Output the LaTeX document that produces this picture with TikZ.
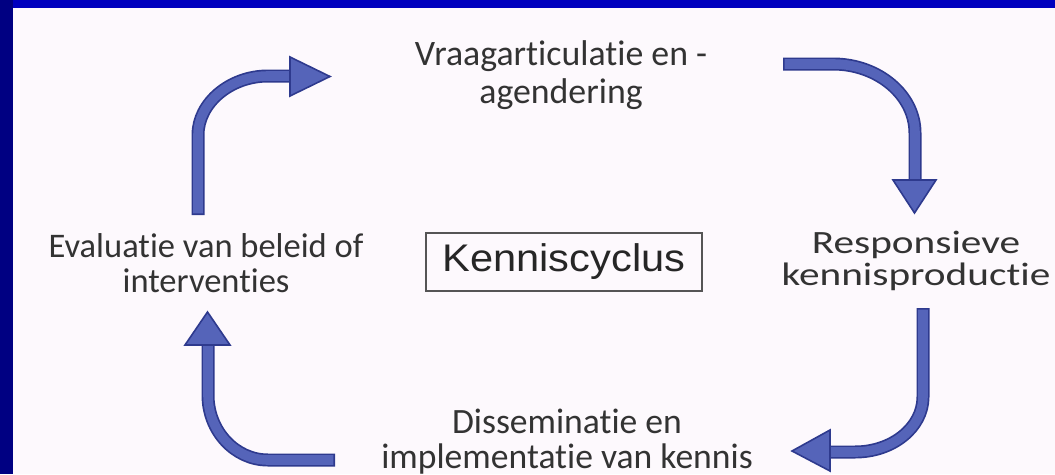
\documentclass[tikz,border=0pt]{standalone}
\usepackage{fontspec}
\setmainfont{Carlito}[Ligatures=NoCommon]
\newfontfamily\arialf{Liberation Sans}[FakeStretch=1.08]
\newfontfamily\widecal{Carlito}[Ligatures=NoCommon, FakeStretch=1.27]
\definecolor{bgblue}{HTML}{0000BE}
\definecolor{navyside}{HTML}{000082}
\definecolor{paper}{HTML}{FDF9FD}
\definecolor{arrowfill}{HTML}{5564B9}
\definecolor{arrowedge}{HTML}{2E3A8E}
\definecolor{txt}{HTML}{333333}
\definecolor{boxgray}{HTML}{555555}
\begin{document}
\begin{tikzpicture}[x=1pt,y=-1pt,
  lbl/.style={text=txt, align=center, inner sep=0pt, anchor=base},
  shaftout/.style={draw=arrowedge, line width=13pt},
  shaftin/.style={draw=arrowfill, line width=9.6pt, shorten <=1.7pt},
  headshape/.style={fill=arrowfill, draw=arrowedge, line width=1.6pt, line join=miter}
]
\useasboundingbox (0,0) rectangle (1055,474);
\fill[bgblue] (0,0) rectangle (1055,474);
\fill[navyside] (0,0) rectangle (13,474);
\fill[paper] (13,8) rectangle (1055,474);

% labels (anchor = baseline of the last line)
\node[lbl, font=\fontsize{35.8}{38}\selectfont] (vraag) at (561,103) {Vraagarticulatie en -\\agendering};
\node[lbl, font=\fontsize{34.5}{35}\selectfont] (eval) at (206,292) {Evaluatie van beleid of\\interventies};
\node[lbl, font=\widecal\fontsize{32.5}{32}\selectfont] (resp) at (916,285) {Responsieve\\kennisproductie};
\node[lbl, font=\fontsize{35.6}{35}\selectfont] (diss) at (567,468) {Disseminatie en\\implementatie van kennis};
\node[draw=boxgray, line width=1.5pt, minimum width=276pt, minimum height=58pt, inner sep=0pt, text=black!85]
  (kc) at (564,262) {\arialf\fontsize{38.5}{39}\selectfont Kenniscyclus};

% arrow 1: evaluatie -> vraag
\coordinate (a1s) at (198,215);
\coordinate (a1b) at (198,135);
\coordinate (a1c) at (268,76);
\coordinate (a1e) at (292,76);
\draw[shaftout] (a1s) -- (a1b) .. controls (198,103) and (230,76) .. (a1c) -- (a1e);
\draw[shaftin] (a1s) -- (a1b) .. controls (198,103) and (230,76) .. (a1c) -- (a1e);
\draw[headshape] (290,57) -- (330,76.5) -- (290,96) -- cycle;

% arrow 2: vraag -> resp
\coordinate (a2s) at (783,64);
\coordinate (a2b) at (833,64);
\coordinate (a2c) at (915,133);
\coordinate (a2e) at (915,182);
\draw[shaftout] (a2s) -- (a2b) .. controls (878,64) and (915,95) .. (a2c) -- (a2e);
\draw[shaftin] (a2s) -- (a2b) .. controls (878,64) and (915,95) .. (a2c) -- (a2e);
\draw[headshape] (893,180) -- (914.5,213) -- (936,180) -- cycle;

% arrow 3: resp -> diss
\coordinate (a3s) at (923,308);
\coordinate (a3b) at (923,397);
\coordinate (a3c) at (855,452);
\coordinate (a3e) at (828,452);
\draw[shaftout] (a3s) -- (a3b) .. controls (923,427) and (893,452) .. (a3c) -- (a3e);
\draw[shaftin] (a3s) -- (a3b) .. controls (923,427) and (893,452) .. (a3c) -- (a3e);
\draw[headshape] (830,430) -- (792,451) -- (830,471) -- cycle;

% arrow 4: diss -> eval
\coordinate (a4s) at (335,460);
\coordinate (a4b) at (268,460);
\coordinate (a4c) at (208,395);
\coordinate (a4e) at (208,343);
\draw[shaftout] (a4s) -- (a4b) .. controls (235,460) and (208,431) .. (a4c) -- (a4e);
\draw[shaftin] (a4s) -- (a4b) .. controls (235,460) and (208,431) .. (a4c) -- (a4e);
\draw[headshape] (185,345) -- (207.5,312) -- (230,345) -- cycle;
\end{tikzpicture}
\end{document}
